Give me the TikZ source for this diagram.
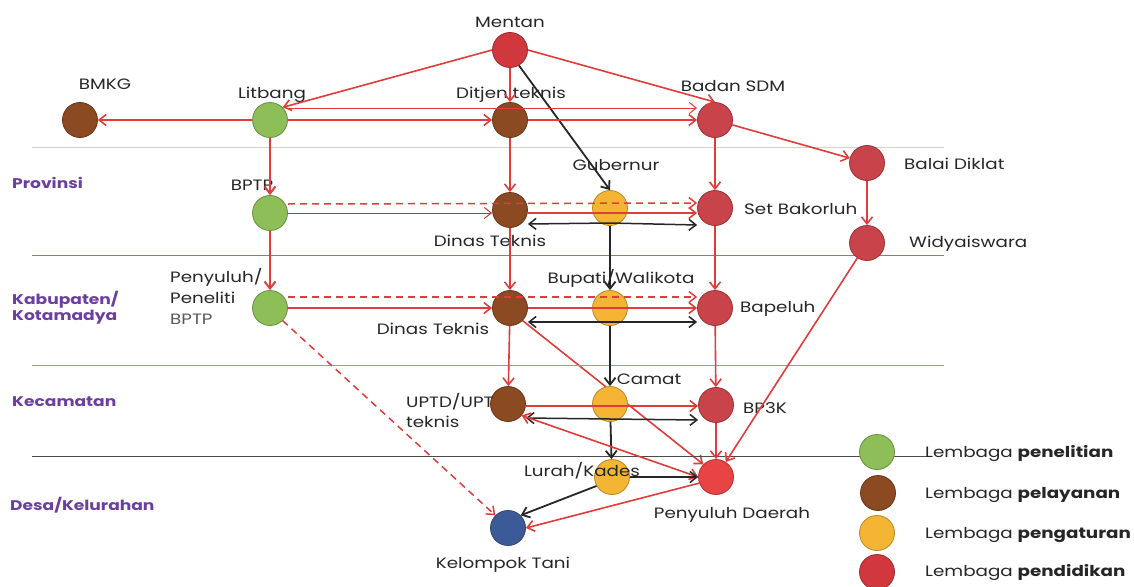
\documentclass[tikz,border=0pt]{standalone}
\usepackage{fontspec}
\setmainfont{Poppins}[FakeStretch=1.22]
\usetikzlibrary{arrows.meta}
\definecolor{cred}{HTML}{D0383E}
\definecolor{cred2}{HTML}{C9434A}
\definecolor{cred3}{HTML}{E84444}
\definecolor{cbrown}{HTML}{8B4A22}
\definecolor{cgreen}{HTML}{8DBE57}
\definecolor{cyellow}{HTML}{F5B534}
\definecolor{cblue}{HTML}{3D5A98}
\definecolor{lred}{HTML}{E23B3B}
\definecolor{cpurple}{HTML}{6B3FA0}
\pgfdeclarelayer{bg}
\pgfsetlayers{bg,main}
\tikzset{
  inst/.style={circle, minimum size=35pt, inner sep=0pt, draw=#1!75!black, fill=#1, line width=0.8pt},
  lbl/.style={font=\fontsize{15}{17}\selectfont, text=black!85, inner sep=0pt},
  lev/.style={font=\bfseries\fontsize{14}{16}\selectfont, text=cpurple, anchor=west, inner sep=0pt},
  rl/.style={draw=lred, line width=1.6pt, -{Straight Barb[length=7pt,width=11pt]}},
  rthin/.style={draw=lred, line width=1pt, -{Straight Barb[length=7pt,width=11pt]}},
  rdash/.style={draw=lred, line width=1.5pt, dash pattern=on 7pt off 5pt, -{Straight Barb[length=7pt,width=11pt]}},
  bl/.style={draw=black!85, line width=1.8pt, -{Straight Barb[length=7pt,width=11pt]}},
  sep/.style={line width=1pt},
}
\begin{document}
\begin{tikzpicture}[x=1pt,y=-1pt]
\useasboundingbox (0,0) rectangle (1134,586);
% level separators
\draw[sep, draw={rgb,255:red,216;green,210;blue,196}] (32,147) -- (944,147);
\draw[sep, draw={rgb,255:red,205;green,95;blue,95}] (32,255) -- (944,255);
\draw[sep, draw={rgb,255:red,138;green,160;blue,187}] (32,365) -- (944,365);
\draw[sep, draw=black!70] (32,456) -- (930,456);
% level labels
\node[lev] (lprov) at (12,183) {Provinsi};
\node[lev, align=left, anchor=west] (lkab) at (12,308) {Kabupaten/\\Kotamadya};
\node[lev] (lkec) at (12,402) {Kecamatan};
\node[lev] (ldesa) at (10,505) {Desa/Kelurahan};
% nodes
\node[inst=cred] (mentan) at (510,50) {};
\node[inst=cbrown] (bmkg) at (80,120) {};
\node[inst=cgreen] (litbang) at (270,120) {};
\node[inst=cbrown] (ditjen) at (510,120) {};
\node[inst=cred2] (bsdm) at (715,120) {};
\node[inst=cred2] (diklat) at (867,163) {};
\node[inst=cred2] (wid) at (867,243) {};
\node[inst=cgreen] (bptp) at (270,213) {};
\node[inst=cbrown] (dinas1) at (510,210) {};
\node[inst=cyellow] (gub) at (610,208) {};
\node[inst=cred2] (sbk) at (715,208) {};
\node[inst=cgreen] (penpel) at (270,308) {};
\node[inst=cbrown] (dinas2) at (510,308) {};
\node[inst=cyellow] (bupati) at (610,308) {};
\node[inst=cred2] (bapeluh) at (715,308) {};
\node[inst=cbrown] (uptd) at (508,404) {};
\node[inst=cyellow] (camat) at (610,404) {};
\node[inst=cred2] (bp3k) at (716,405) {};
\node[inst=cyellow] (lurah) at (612,477) {};
\node[inst=cred3] (pd) at (716,477) {};
\node[inst=cblue] (kt) at (508,528) {};
% labels
\node[lbl] (tmentan) at (510,22) {Mentan};
\node[lbl] (tbmkg) at (105,84) {BMKG};
\node[lbl] (tlitbang) at (272,95) {Litbang};
\node[lbl] (tditjen) at (511,95) {Ditjen teknis};
\node[lbl] (tbsdm) at (733,86) {Badan SDM};
\node[lbl, anchor=west] (tdiklat) at (904,164) {Balai Diklat};
\node[lbl, anchor=west] (tsbk) at (744,209) {Set Bakorluh};
\node[lbl, anchor=west] (twid) at (909,244) {Widyaiswara};
\node[lbl] (tbptp) at (252,185) {BPTP};
\node[lbl] (tdinas1) at (490,241) {Dinas Teknis};
\node[lbl] (tgub) at (616,165) {Gubernur};
\node[lbl, anchor=west, align=left, font=\fontsize{15}{21}\selectfont] (tpenpel) at (170,296) {Penyuluh/\\Peneliti\\\textcolor{black!65}{BPTP}};
\node[lbl] (tbupati) at (621,278) {Bupati/Walikota};
\node[lbl] (tdinas2) at (433,329) {Dinas Teknis};
\node[lbl, anchor=west] (tbapeluh) at (740,309) {Bapeluh};
\node[lbl, anchor=west, align=left, font=\fontsize{15}{20}\selectfont] (tuptd) at (406,410) {UPTD/UPT\\teknis};
\node[lbl] (tcamat) at (649,379) {Camat};
\node[lbl, anchor=west] (tbp3k) at (743,408) {BP3K};
\node[lbl] (tlurah) at (582,471) {Lurah/Kades};
\node[lbl] (tpd) at (732,515) {Penyuluh Daerah};
\node[lbl] (tkt) at (503,565) {Kelompok Tani};
% legend
\node[inst=cgreen] (lg1) at (877,452) {};
\node[inst=cbrown] (lg2) at (878,493) {};
\node[inst=cyellow] (lg3) at (877,533) {};
\node[inst=cred] (lg4) at (877,572) {};
\node[lbl, anchor=west] (tlg1) at (925,454) {Lembaga \textbf{penelitian}};
\node[lbl, anchor=west] (tlg2) at (925,495) {Lembaga \textbf{pelayanan}};
\node[lbl, anchor=west] (tlg3) at (925,535) {Lembaga \textbf{pengaturan}};
\node[lbl, anchor=west] (tlg4) at (925,573) {Lembaga \textbf{pendidikan}};
% edges behind nodes
\begin{pgfonlayer}{bg}
\draw[rl] (dinas2.south east) -- (pd.north west);
\end{pgfonlayer}
% national level
\draw[rl] (mentan.west) -- (litbang.north east);
\draw[rl] (mentan.east) -- (bsdm.north);
\draw[rl] (mentan) -- (ditjen);
\draw[bl] (mentan.-60) -- (gub.north);
\draw[rl] (litbang) -- (bmkg);
\draw[rl] (litbang) -- (ditjen);
\draw[rl] (ditjen) -- (bsdm);
\draw[rthin] ([yshift=12pt]litbang.east) -- ([yshift=12pt]bsdm.west);
\draw[rl] (bsdm) -- (diklat);
\draw[rl] (diklat) -- (wid);
\draw[rl] (wid) -- (pd);
% verticals
\draw[rl, line width=2pt] (litbang) -- (bptp);
\draw[rl, line width=2pt] (bptp) -- (penpel);
\draw[rl] (ditjen) -- (dinas1);
\draw[rl] (dinas1) -- (dinas2);
\draw[rl] (dinas2) -- (uptd);
\draw[rl] (bsdm) -- (sbk);
\draw[rl] (sbk) -- (bapeluh);
\draw[rl] (bapeluh) -- (bp3k);
\draw[rl] (bp3k) -- (pd);
\draw[bl] (gub) -- (bupati);
\draw[bl] (bupati) -- (camat);
\draw[bl] (camat) -- (lurah);
% province row
\draw[rdash] ([yshift=9pt]bptp.east) -- ([yshift=5pt]sbk.west);
\draw[rthin, draw=cbrown!70!lred] (bptp.east) -- ([yshift=-3pt]dinas1.west);
\draw[rl] ([yshift=-3pt]dinas1.east) -- ([yshift=-5pt]sbk.west);
\draw[bl, line width=1.5pt] ([yshift=-15pt]gub.center) -- ([yshift=-14pt]dinas1.east);
\draw[bl, line width=1.5pt] ([yshift=-15pt]gub.center) -- ([yshift=-17pt]sbk.west);
% kabupaten row
\draw[rdash] ([yshift=11pt]penpel.east) -- ([yshift=11pt]bapeluh.west);
\draw[rl] (penpel) -- (dinas2);
\draw[rl] (dinas2) -- (bapeluh);
\draw[bl, line width=1.5pt] ([yshift=-14pt]bupati.center) -- ([yshift=-14pt]dinas2.east);
\draw[bl, line width=1.5pt] ([yshift=-14pt]bupati.center) -- ([yshift=-14pt]bapeluh.west);
\draw[rdash] (penpel.south east) -- (kt.north west);
% kecamatan row
\draw[rl] ([yshift=-2pt]uptd.east) -- ([yshift=-1pt]bp3k.west);
\draw[bl, line width=1.5pt] ([yshift=-15pt]camat.center) -- ([yshift=-14pt]uptd.east);
\draw[bl, line width=1.5pt] ([yshift=-15pt]camat.center) -- ([yshift=-15pt]bp3k.west);
\draw[rl, {Straight Barb[length=7pt,width=11pt]}-{Straight Barb[length=7pt,width=11pt]}] (uptd.-40) -- (pd.west);
% desa row
\draw[bl, line width=1.5pt] (lurah.east) -- (pd.west);
\draw[bl] (lurah.-150) -- (kt.north east);
\draw[rl] (pd.-160) -- (kt.east);
\end{tikzpicture}
\end{document}
